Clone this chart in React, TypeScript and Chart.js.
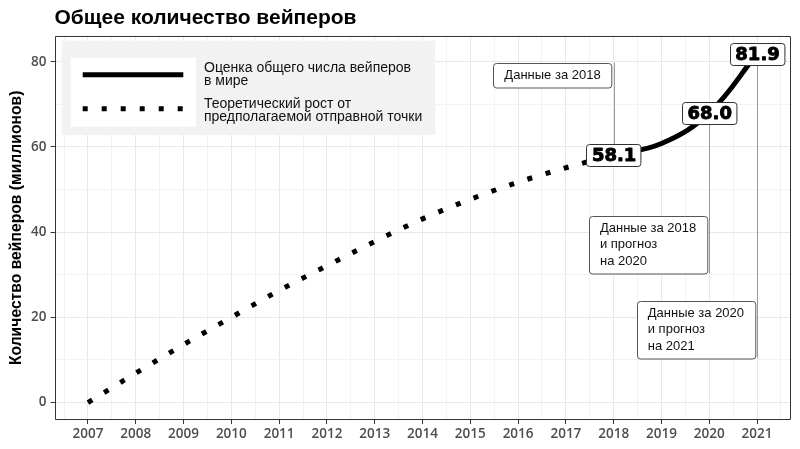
import { useEffect, useRef } from "react";
import { Chart, registerables } from "chart.js";

Chart.register(...registerables);

// years shown on the x axis
const tickYears = [2007, 2008, 2009, 2010, 2011, 2012, 2013, 2014, 2015, 2016, 2017, 2018, 2019, 2020, 2021];
// labelled y ticks
const yTickLabels = [0, 20, 40, 60, 80];

// dotted line: theoretical growth from the assumed starting point
const theoryYears = [2007, 2008, 2009, 2010, 2011, 2012, 2013, 2014, 2015, 2016, 2017, 2018];
const theoryValues = [0, 6.9, 13.6, 20.0, 26.3, 32.1, 37.8, 43.1, 47.7, 51.7, 55.1, 58.1];

// solid line: estimate of vapers worldwide
const estimateYears = [2018, 2019, 2020, 2021];
const estimateValues = [58.1, 60.8, 68.0, 81.9];

// boxed value labels
const labelYears = [2018, 2020, 2021];
const labelValues = [58.1, 68.0, 81.9];

// notes attached to the labelled points
const noteTexts = [
  ["Данные за 2018"],
  ["Данные за 2018", "и прогноз", "на 2020"],
  ["Данные за 2020", "и прогноз", "на 2021"],
];
const noteTops = [79.8, 43.8, 23.9];

const legendLabels = [
  ["Оценка общего числа вейперов", "в мире"],
  ["Теоретический рост от", "предполагаемой отправной точки"],
];

const TEXT_FONT = '"Liberation Sans", Arial, sans-serif';
const TICK_FONT = '"Open Sans", sans-serif';
const VALUE_FONT = '"DejaVu Sans", sans-serif';
const DOT_DASH = [5, 14];

const isWhole = (v: number) => Math.abs(v - Math.round(v)) < 1e-6;

const isMajor = (axis: string, v: number) =>
  axis === "y" ? yTickLabels.some((t) => Math.abs(t - v) < 1e-6) : isWhole(v);

const overlayPlugin = {
  id: "overlay",
  afterDatasetsDraw(chart: any) {
    const { ctx, chartArea } = chart;
    const xs = chart.scales.x;
    const ys = chart.scales.y;
    ctx.save();

    // note connector lines and boxes
    ctx.font = `13px ${TEXT_FONT}`;
    noteTexts.forEach((lines, i) => {
      const lx = xs.getPixelForValue(labelYears[i]);
      const ly = ys.getPixelForValue(labelValues[i]);
      const top = ys.getPixelForValue(noteTops[i]);
      const h = lines.length * 16.5 + 8;
      const bottom = top + h;
      const far = Math.abs(top - ly) > Math.abs(bottom - ly) ? top : bottom;
      ctx.strokeStyle = "#9a9a9a";
      ctx.lineWidth = 1;
      ctx.beginPath();
      ctx.moveTo(Math.round(lx) + 0.5, ly);
      ctx.lineTo(Math.round(lx) + 0.5, far);
      ctx.stroke();

      const w = Math.max(...lines.map((t) => ctx.measureText(t).width)) + 22;
      const right = lx - 2;
      ctx.fillStyle = "#fff";
      ctx.strokeStyle = "#555";
      ctx.beginPath();
      ctx.roundRect(Math.round(right - w) + 0.5, Math.round(top) + 0.5, w, h, 3);
      ctx.fill();
      ctx.stroke();
      ctx.fillStyle = "#111";
      ctx.textAlign = "left";
      ctx.textBaseline = "middle";
      lines.forEach((t, j) => {
        ctx.fillText(t, right - w + 11, top + 12.5 + j * 16.5);
      });
    });

    // value labels
    ctx.font = `bold 18px ${VALUE_FONT}`;
    labelYears.forEach((yr, i) => {
      const x = xs.getPixelForValue(yr);
      const y = ys.getPixelForValue(labelValues[i]);
      const text = labelValues[i].toFixed(1);
      const w = ctx.measureText(text).width + 10;
      const h = 22;
      ctx.fillStyle = "#fff";
      ctx.strokeStyle = "#333";
      ctx.lineWidth = 1;
      ctx.beginPath();
      ctx.roundRect(Math.round(x - w / 2) + 0.5, Math.round(y - h / 2) + 0.5, w, h, 3);
      ctx.fill();
      ctx.stroke();
      ctx.fillStyle = "#000";
      ctx.strokeStyle = "#000";
      ctx.lineWidth = 0.9;
      ctx.lineJoin = "round";
      ctx.textAlign = "center";
      ctx.textBaseline = "middle";
      ctx.fillText(text, x + 0.5, y + 1.5);
      ctx.strokeText(text, x + 0.5, y + 1.5);
    });

    // legend
    const L = chartArea.left;
    const T = chartArea.top;
    ctx.fillStyle = "#f2f2f2";
    ctx.fillRect(L + 7.2, T + 5, 373.5, 94.3);
    ctx.fillStyle = "#fff";
    ctx.fillRect(L + 16.2, T + 22, 125.3, 69);
    ctx.strokeStyle = "#000";
    ctx.lineWidth = 5;
    ctx.lineCap = "butt";
    ctx.beginPath();
    ctx.moveTo(L + 28.2, T + 39);
    ctx.lineTo(L + 128.8, T + 39);
    ctx.stroke();
    ctx.setLineDash(DOT_DASH);
    ctx.beginPath();
    ctx.moveTo(L + 28.2, T + 73);
    ctx.lineTo(L + 128.8, T + 73);
    ctx.stroke();
    ctx.setLineDash([]);
    ctx.font = `14px ${TEXT_FONT}`;
    ctx.fillStyle = "#111";
    ctx.textAlign = "left";
    ctx.textBaseline = "middle";
    legendLabels.forEach((lines, i) => {
      lines.forEach((t, j) => {
        ctx.fillText(t, L + 149.5, T + 32 + i * 36.3 + j * 13.4);
      });
    });

    // panel border
    ctx.strokeStyle = "#333";
    ctx.lineWidth = 1;
    ctx.strokeRect(
      Math.round(chartArea.left) + 0.5,
      Math.round(chartArea.top) + 0.5,
      Math.round(chartArea.right - chartArea.left) - 1,
      Math.round(chartArea.bottom - chartArea.top) - 1,
    );

    // titles
    ctx.fillStyle = "#000";
    ctx.font = `bold 21px ${TEXT_FONT}`;
    ctx.textAlign = "left";
    ctx.textBaseline = "middle";
    ctx.fillText("Общее количество вейперов", chartArea.left, 18);
    ctx.save();
    ctx.translate(17, (chartArea.top + chartArea.bottom) / 2);
    ctx.rotate(-Math.PI / 2);
    ctx.font = `bold 15.7px ${TEXT_FONT}`;
    ctx.textAlign = "center";
    ctx.fillText("Количество вейперов (миллионов)", 0, 0);
    ctx.restore();

    ctx.restore();
  },
};

export default function App() {
  const canvasRef = useRef<HTMLCanvasElement>(null);
  const chartRef = useRef<Chart | null>(null);

  useEffect(() => {
    if (!canvasRef.current) return;
    if (chartRef.current) chartRef.current.destroy();

    const gridColor = (ctx: any) =>
      ctx.tick && isMajor(ctx.scale.axis, ctx.tick.value) ? "#e8e8e8" : "#f3f3f3";
    const tickColor = (ctx: any) =>
      ctx.tick && isMajor(ctx.scale.axis, ctx.tick.value) ? "#333" : "rgba(0,0,0,0)";

    chartRef.current = new Chart(canvasRef.current, {
      type: "line",
      data: {
        datasets: [
          {
            label: "Теоретический рост",
            data: theoryYears.map((x, i) => ({ x, y: theoryValues[i] })),
            borderColor: "#000",
            borderWidth: 5,
            borderDash: DOT_DASH,
            borderCapStyle: "butt",
            cubicInterpolationMode: "monotone",
            pointRadius: 0,
            fill: false,
          },
          {
            label: "Оценка",
            data: estimateYears.map((x, i) => ({ x, y: estimateValues[i] })),
            borderColor: "#000",
            borderWidth: 5,
            tension: 0.4,
            pointRadius: 0,
            fill: false,
          },
        ],
      },
      options: {
        animation: false,
        responsive: true,
        maintainAspectRatio: false,
        layout: { padding: { top: 35.7, right: 9.5, left: 0, bottom: 0 } },
        plugins: {
          legend: { display: false },
          title: { display: false },
          tooltip: { enabled: false },
        },
        scales: {
          x: {
            type: "linear",
            min: 2006.3,
            max: 2021.7,
            afterFit: (s: any) => {
              s.height = 29;
            },
            border: { display: false },
            grid: { color: gridColor, tickColor, tickLength: 4, lineWidth: 1 },
            ticks: {
              stepSize: 0.5,
              includeBounds: false,
              autoSkip: false,
              maxRotation: 0,
              padding: 2,
              color: "#4d4d4d",
              font: { family: TICK_FONT, size: 13.5, weight: 600 },
              callback: (v: any) => {
                const n = Number(v);
                return isWhole(n) && tickYears.includes(Math.round(n)) ? String(Math.round(n)) : "";
              },
            },
          },
          y: {
            type: "linear",
            min: -4.1,
            max: 86.1,
            afterFit: (s: any) => {
              s.width = 54.5;
            },
            border: { display: false },
            grid: { color: gridColor, tickColor, tickLength: 4, lineWidth: 1 },
            ticks: {
              stepSize: 10,
              includeBounds: false,
              autoSkip: false,
              padding: 4,
              color: "#4d4d4d",
              font: { family: TICK_FONT, size: 13.5, weight: 600 },
              callback: (v: any) => (isMajor("y", Number(v)) ? String(Math.round(Number(v))) : ""),
            },
          },
        },
      },
      plugins: [overlayPlugin],
    });

    return () => {
      if (chartRef.current) {
        chartRef.current.destroy();
        chartRef.current = null;
      }
    };
  }, []);

  return (
    <div style={{ position: "fixed", left: 0, top: 0, width: 800, height: 449, background: "#fff" }}>
      <canvas ref={canvasRef} />
    </div>
  );
}
